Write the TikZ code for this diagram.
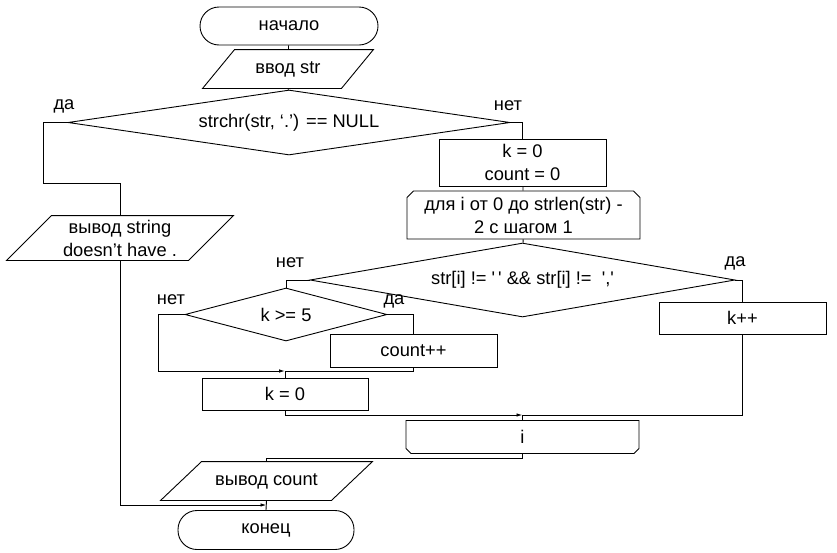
\documentclass[tikz,border=0pt]{standalone}
\usepackage{fontspec}
\setmainfont{Liberation Sans}
\usetikzlibrary{shapes.geometric,shapes.misc,arrows.meta}
\begin{document}
\begin{tikzpicture}[x=1pt, y=-1pt, line width=0.9pt, >={Latex[length=6pt,width=3.5pt]},
	font=\fontsize{18.3}{23}\selectfont,
	every node/.style={inner sep=0pt, align=center},
	terminal/.style={draw, rectangle, rounded corners=19pt},
	process/.style={draw, rectangle},
	io/.style={rectangle},
	decision/.style={draw, diamond, aspect=6},
	loopstart/.style={draw, chamfered rectangle, chamfered rectangle corners={north west, north east}, chamfered rectangle xsep=3pt, chamfered rectangle ysep=3.5pt},
	loopend/.style={draw, chamfered rectangle, chamfered rectangle corners={south west, south east}, chamfered rectangle xsep=3pt, chamfered rectangle ysep=3pt}]
	\useasboundingbox (0,0) rectangle (837,552);
	\node[terminal, minimum width=178, minimum height=38] (start) at (289,26) {начало};
	\node[io, minimum width=138, minimum height=38] (input) at (288,69) {ввод str};
	\node[decision, minimum width=442, minimum height=65] (cond1) at (289,122.5) {strchr(str, ‘.’) == NULL};
	\node[io, minimum width=181, minimum height=44] (outmsg) at (120,238) {вывод string\\doesn’t have .};
	\node[process, minimum width=167, minimum height=47] (init) at (522.5,162.5) {k = 0\\count = 0};
	\node[loopstart, minimum width=233, minimum height=48] (loop) at (523.5,215) {для i от 0 до strlen(str) -\\2 с шагом 1};
	\node[decision, minimum width=425, minimum height=74] (cond2) at (522.5,280) {str[i] != \textquotesingle\,\textquotesingle\ \&\& str[i] != \ \textquotesingle,\textquotesingle};
	\node[process, minimum width=167, minimum height=32] (incr) at (742.5,318) {k++};
	\node[decision, minimum width=202, minimum height=53] (cond3) at (286,314.5) {k >= 5};
	\node[process, minimum width=167, minimum height=33] (cnt) at (413.5,350.5) {count++};
	\node[process, minimum width=166, minimum height=32] (reset) at (285,394) {k = 0};
	\node[loopend, minimum width=233, minimum height=33] (close) at (522.5,437) {i};
	\node[io, minimum width=170, minimum height=38] (outcnt) at (266.5,481) {вывод count};
	\node[terminal, minimum width=176, minimum height=39] (stop) at (266,530) {конец};
	\foreach \n/\s in {input/16, outmsg/22.5, outcnt/20.5}
		\draw ([xshift=\s pt]\n.north west) -- ([xshift=\s pt]\n.north east) -- ([xshift=-\s pt]\n.south east) -- ([xshift=-\s pt]\n.south west) -- cycle;
	\foreach \pos/\txt [count=\n] in {{(64,106)}/да, {(508,106)}/нет, {(290,263)}/нет, {(735,263)}/да, {(171,300)}/нет, {(394,301)}/да}
		\node (lbl\n) at \pos {\txt};
	\coordinate (m1) at (285,371);
	\coordinate (m2) at (522.5,415);
	\coordinate (m3) at (266.5,505);
	\draw (start) -- (input);
	\draw (input) -- (cond1);
	\draw (cond1.west) -- ++(-24,0) -- ++(0,61) -| (outmsg.north);
	\draw (cond1.east) -| (init.north);
	\draw (init) -- (loop);
	\draw (loop) -- (cond2);
	\draw (cond2.east) -| (incr.north);
	\draw (cond2.west) -| (cond3.north);
	\draw[->] (cond3.west) -- ++(-26,0) |- (m1);
	\draw (cond3.east) -| (cnt.north);
	\draw (cnt.south) |- (m1) -- (reset.north);
	\draw[->] (reset.south) |- (m2);
	\draw (incr.south) |- (m2) -- (close.north);
	\draw (close.south) -- ++(0,4) -| (outcnt.north);
	\draw[->] (outmsg.south) |- (m3);
	\draw (outcnt.south) -- (stop.north);
\end{tikzpicture}
\end{document}
